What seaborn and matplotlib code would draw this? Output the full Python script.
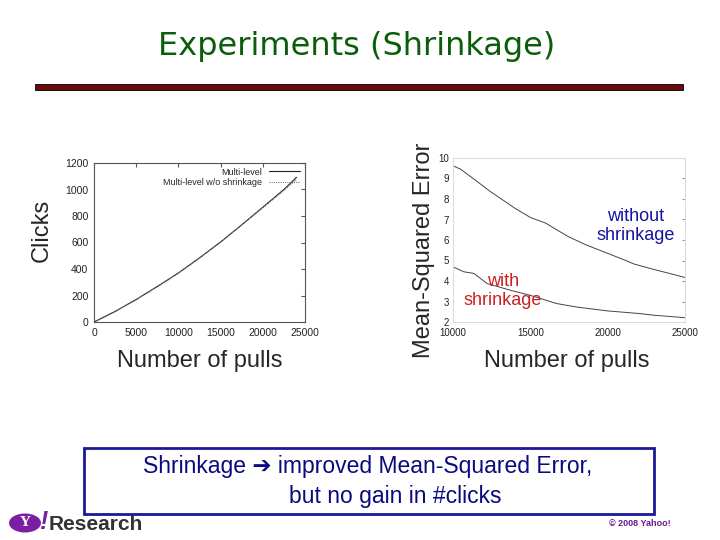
import numpy as np
import pandas as pd
import matplotlib
matplotlib.use("Agg")
import matplotlib.pyplot as plt
import seaborn as sns
from matplotlib.patches import Rectangle, Ellipse

# data
pulls = [0, 2500, 5000, 7500, 10000, 12500, 15000, 17500, 20000, 22500, 24000]
clicks_multi = [0, 80, 170, 268, 370, 484, 604, 733, 866, 1000, 1092]
clicks_noshrink = [0, 78, 168, 265, 368, 482, 602, 731, 862, 992, 1076]

mse_x_without = [10000, 10500, 11550, 12400, 13050, 14000, 15000, 16000, 16700,
                 17470, 18640, 20000, 21000, 21700, 23000, 24000, 25000]
mse_without = [9.62, 9.45, 8.86, 8.37, 8.04, 7.55, 7.1, 6.82, 6.5,
               6.16, 5.75, 5.35, 5.05, 4.83, 4.56, 4.37, 4.17]
mse_x_with = [10000, 10700, 11350, 12200, 13700, 15000, 16700, 18000,
              20000, 22100, 23000, 25000]
mse_with = [4.69, 4.45, 4.37, 3.88, 3.55, 3.3, 2.9, 2.73, 2.54, 2.41, 2.33, 2.21]

left_xticks = [0, 5000, 10000, 15000, 20000, 25000]
left_yticks = [0, 200, 400, 600, 800, 1000, 1200]
right_xticks = [10000, 15000, 20000, 25000]
right_yticks = [2, 3, 4, 5, 6, 7, 8, 9, 10]

clicks_df = pd.DataFrame({
    "pulls": pulls * 2,
    "clicks": clicks_multi + clicks_noshrink,
    "model": ["Multi-level"] * len(pulls) + ["Multi-level w/o shrinkage"] * len(pulls),
})
mse_df = pd.DataFrame({
    "pulls": mse_x_without + mse_x_with,
    "mse": mse_without + mse_with,
    "kind": ["without"] * len(mse_x_without) + ["with"] * len(mse_x_with),
})

sns.set_style("white")
plt.rcParams["font.family"] = ["Liberation Sans", "DejaVu Sans"]

fig = plt.figure(figsize=(7.2, 5.4), dpi=100)

# title and red rule
fig.text(0.496, 0.913, "Experiments (Shrinkage)", ha="center", va="center",
         fontsize=23, color="#0b5d0b", family="DejaVu Sans")
fig.add_artist(Rectangle((35 / 720, 1 - 90 / 540), 648 / 720, 6 / 540,
                         transform=fig.transFigure, facecolor="#6b0a0a",
                         edgecolor="black", lw=0.6))

# left chart: clicks
ax1 = fig.add_axes([94 / 720, 1 - 322 / 540, 211 / 720, 159 / 540])
sns.lineplot(data=clicks_df, x="pulls", y="clicks", hue="model", style="model",
             palette=["#222222", "#777777"], dashes=[(None, None), (1, 1)],
             linewidth=0.8, ax=ax1)
ax1.set_xlim(0, 25000)
ax1.set_ylim(0, 1200)
ax1.set_xticks(left_xticks)
ax1.set_yticks(left_yticks)
ax1.tick_params(direction="in", length=3, labelsize=7.5, top=True, right=True,
                colors="#555555", labelcolor="#222222", pad=4)
for s in ax1.spines.values():
    s.set_color("#555555")
    s.set_linewidth(0.8)
ax1.set_xlabel("")
ax1.set_ylabel("")
leg = ax1.legend(loc="upper right", frameon=False, fontsize=6.5, markerfirst=False,
                 handlelength=3.5, borderaxespad=0.1, labelspacing=0.2)
for t in leg.get_texts():
    t.set_ha("right")

fig.text(42 / 720, 1 - 230 / 540, "Clicks", rotation=90, ha="center", va="center",
         fontsize=17)
fig.text(200 / 720, 1 - 361 / 540, "Number of pulls", ha="center", va="center",
         fontsize=17)

# right chart: mean-squared error
ax2 = fig.add_axes([453 / 720, 1 - 322 / 540, 232 / 720, 164 / 540])
sns.lineplot(data=mse_df, x="pulls", y="mse", hue="kind",
             palette=["#444444", "#444444"], linewidth=0.7, legend=False, ax=ax2)
ax2.set_xlim(10000, 25000)
ax2.set_ylim(2, 10)
ax2.set_xticks(right_xticks)
ax2.set_yticks(right_yticks)
ax2.tick_params(direction="in", length=2.5, labelsize=7, right=True,
                colors="#999999", labelcolor="#222222", pad=3)
ax2.tick_params(axis="x", pad=4.5)
for s in ax2.spines.values():
    s.set_color("#dddddd")
    s.set_linewidth(0.8)
ax2.set_xlabel("")
ax2.set_ylabel("")

ax2.text(636 / 720, 1 - 226 / 540, "without\nshrinkage", transform=fig.transFigure,
         ha="center", va="center", fontsize=13, color="#1414a0", linespacing=1.15)
ax2.text(503 / 720, 1 - 291 / 540, "with\nshrinkage", transform=fig.transFigure,
         ha="center", va="center", fontsize=13, color="#cc2020", linespacing=1.15)

fig.text(424 / 720, 1 - 250 / 540, "Mean-Squared Error", rotation=90, ha="center",
         va="center", fontsize=17)
fig.text(567 / 720, 1 - 361 / 540, "Number of pulls", ha="center", va="center",
         fontsize=17)

# summary box
fig.add_artist(Rectangle((84 / 720, 1 - 514 / 540), 570 / 720, 66 / 540,
                         transform=fig.transFigure, facecolor="white",
                         edgecolor="#1a1a99", lw=2))
fig.text(368 / 720, 1 - 467 / 540, "Shrinkage ➔ improved Mean-Squared Error,",
         ha="center", va="center", fontsize=16.5, color="#0a0a80",
         family=["Liberation Sans", "DejaVu Sans"])
fig.text(395 / 720, 1 - 496 / 540, "but no gain in #clicks", ha="center",
         va="center", fontsize=16.5, color="#0a0a80")

# footer
fig.add_artist(Ellipse((25 / 720, 1 - 523 / 540), 32 / 720, 19 / 540,
                       transform=fig.transFigure, facecolor="#7b1fa2",
                       edgecolor="none"))
fig.text(25 / 720, 1 - 523 / 540, "Y", ha="center", va="center", fontsize=11,
         color="white", family="Liberation Serif", weight="bold")
fig.text(43 / 720, 1 - 522 / 540, "!", ha="center", va="center", fontsize=18,
         color="#7b1fa2", weight="bold", style="italic")
fig.text(49 / 720, 1 - 524 / 540, "Research", ha="left", va="center", fontsize=15,
         color="#333333", weight="bold")
fig.text(640 / 720, 1 - 524 / 540, "© 2008 Yahoo!", ha="center", va="center",
         fontsize=6.5, color="#6a1b8a", weight="bold")

fig.savefig("out.png", dpi=100)
